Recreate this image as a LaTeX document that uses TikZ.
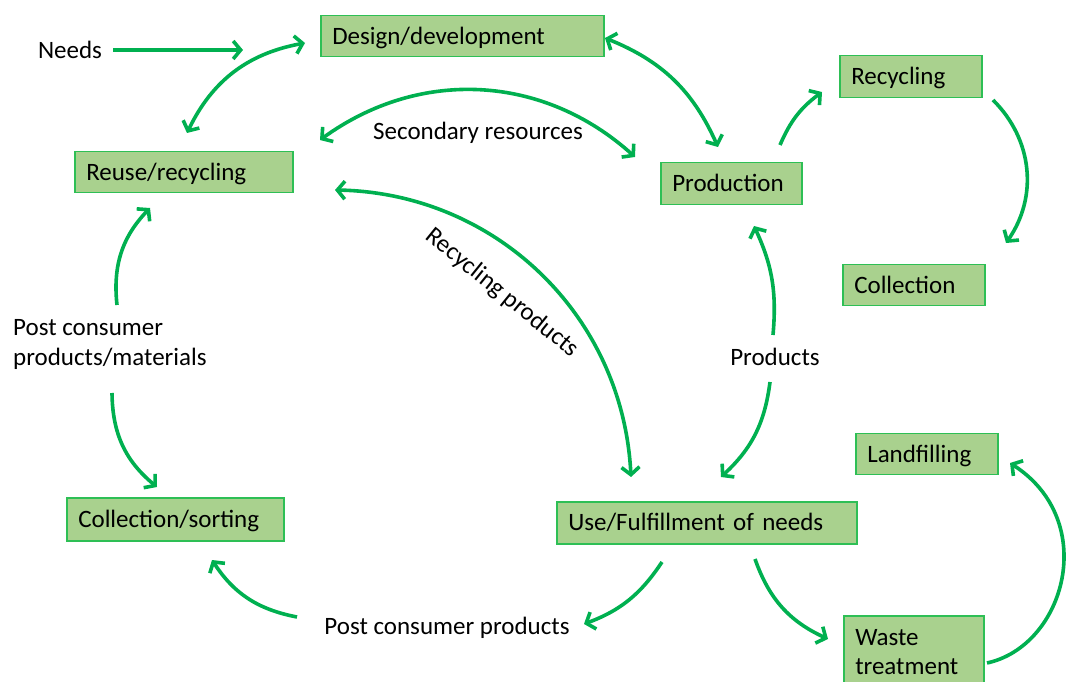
\documentclass[tikz,border=0pt]{standalone}
\usepackage{fontspec}
\setmainfont{Carlito}
\usetikzlibrary{arrows.meta}
\definecolor{arrowgreen}{HTML}{00B050}
\definecolor{boxgreen}{HTML}{A9D18E}
\definecolor{boxline}{HTML}{2EBF55}
\begin{document}
\begin{tikzpicture}[x=1pt,y=1pt,
  lbl/.style={font=\fontsize{25}{30}\selectfont, text=black, inner sep=0pt},
  box/.style={lbl, draw=boxline, fill=boxgreen, line width=1.5pt, anchor=north west,
    inner xsep=11.5pt, inner ysep=0pt, align=left, minimum height=41pt,
    text height=21pt, text depth=5pt},
  flow/.style={draw=arrowgreen, line width=3.6pt, -{Straight Barb[length=7.5pt,width=18pt]}},
  biflow/.style={draw=arrowgreen, line width=3.6pt, {Straight Barb[length=7.5pt,width=18pt]}-{Straight Barb[length=7.5pt,width=18pt]}}
]
\useasboundingbox (0,0) rectangle (1069,681);
\fill[white] (0,0) rectangle (1069,681);

% boxes
\node[box, text width=260pt] (design) at (320,666) {Design/development};
\node[box, text width=195pt] (reuse) at (74,530) {Reuse/recycling};
\node[box, text width=118pt, minimum height=42pt] (prod) at (660,519) {Production};
\node[box, text width=119pt, minimum height=42pt] (recyc) at (839,626) {Recycling};
\node[box, text width=119pt] (coll) at (842,417) {Collection};
\node[box, text width=194pt, minimum height=43pt] (collsort) at (66,184) {Collection/sorting};
\node[box, text width=277pt, minimum height=42pt] (use) at (556,180) {Use/Fulfillment of needs};
\node[box, text width=119pt] (land) at (855,248) {Landfilling};
\node[lbl, draw=boxline, fill=boxgreen, line width=1.5pt, anchor=north west,
    inner xsep=11.5pt, inner ysep=0pt, align=left, text width=117pt, minimum height=72pt,
    font=\fontsize{25}{29}\selectfont] (waste) at (843,66) {Waste\\treatment};

% labels
\node[lbl] (needs) at (70,631) {Needs};
\node[lbl] (secres) at (478,548) {Secondary resources};
\node[lbl, rotate=-39] (recprod) at (502,388) {Recycling products};
\node[lbl] (products) at (775,324) {Products};
\node[lbl, align=left, anchor=west] (postmat) at (13,337) {Post consumer\\products/materials};
\node[lbl] (postprod) at (447,53) {Post consumer products};

% arrow end points
\coordinate (a1s) at (113,631); \coordinate (a1e) at (243,631);
\coordinate (a2s) at (305,638); \coordinate (a2e) at (187,548);
\coordinate (a3s) at (320,541); \coordinate (a3e) at (635,524);
\coordinate (a4s) at (605,643); \coordinate (a4e) at (718,534);
\coordinate (a5s) at (335,491); \coordinate (a5e) at (631,204);
\coordinate (a6s) at (780,536); \coordinate (a6e) at (822,589);
\coordinate (a7s) at (993,581); \coordinate (a7e) at (1006,438);
\coordinate (a8s) at (773,346); \coordinate (a8e) at (754,455);
\coordinate (a9s) at (770,299); \coordinate (a9e) at (721,204);
\coordinate (a10s) at (117,376); \coordinate (a10e) at (150,473);
\coordinate (a11s) at (112,288); \coordinate (a11e) at (157,194);
\coordinate (a12s) at (662,119); \coordinate (a12e) at (584,57);
\coordinate (a13s) at (297,64); \coordinate (a13e) at (212,121);
\coordinate (a14s) at (755,122); \coordinate (a14e) at (828,42);
\coordinate (a15s) at (987,18); \coordinate (a15e) at (1010,218);
\coordinate (c15a) at (1065,35); \coordinate (c15b) at (1100,160);

% connectors
\draw[flow] (a1s) -- (a1e);
\draw[biflow] (a2s) to[bend right=27] (a2e);
\draw[biflow] (a3s) to[bend left=39] (a3e);
\draw[biflow] (a4s) to[bend left=22] (a4e);
\draw[biflow] (a5s) to[bend left=43] (a5e);
\draw[flow] (a6s) to[bend left=15] (a6e);
\draw[flow] (a7s) to[bend left=40] (a7e);
\draw[flow] (a8s) to[bend right=15] (a8e);
\draw[flow] (a9s) to[bend left=20] (a9e);
\draw[flow] (a10s) to[bend left=25] (a10e);
\draw[flow] (a11s) to[bend right=25] (a11e);
\draw[flow] (a12s) to[bend left=18] (a12e);
\draw[flow] (a13s) to[bend left=23] (a13e);
\draw[flow] (a14s) to[bend right=23] (a14e);
\draw[flow] (a15s) .. controls (c15a) and (c15b) .. (a15e);
\end{tikzpicture}
\end{document}
